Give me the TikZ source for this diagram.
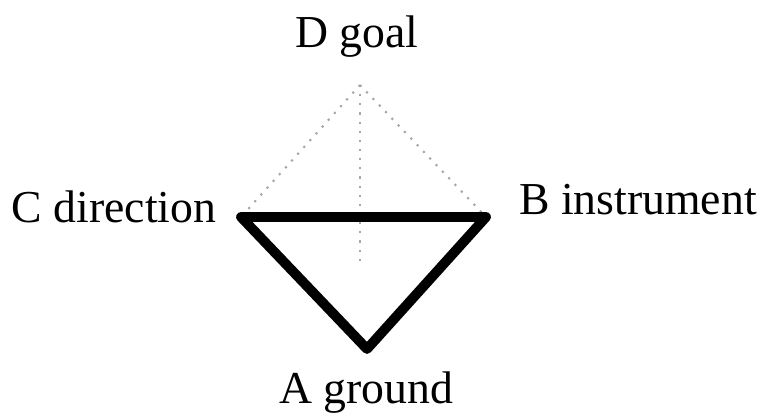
\documentclass[tikz,border=0pt]{standalone}
\usepackage{fontspec}
\setmainfont{Liberation Serif}
\usetikzlibrary{positioning}
\tikzset{
  vertex/.style={inner sep=0pt, minimum size=0pt},
  vlabel/.style={anchor=base, font=\fontsize{13}{15}\selectfont, text=black},
  faceedge/.style={draw=black, line width=2.8pt, line join=round, line cap=round},
  hiddenedge/.style={draw=black!35, line width=0.6pt, dotted},
}

\begin{document}
\begin{tikzpicture}[x=0.01cm, y=-0.01cm]
\useasboundingbox (0,0) rectangle (765,419);

% Corners of the tetrahedron.
\coordinate (D) at (360, 85);
\coordinate (C) at (241, 217);
\coordinate (B) at (486, 217);
\coordinate (A) at (367, 349);
\coordinate (Dfoot) at (360, 262);

% Back edges, only dotted.
\draw[hiddenedge] (D) -- (C);
\draw[hiddenedge] (D) -- (B);
\draw[hiddenedge] (D) -- (Dfoot);

% Front face.
\draw[faceedge] (C) -- (B) -- (A) -- cycle;

% Corner labels.
\node[vlabel] (dlab) at (357, 48) {D goal};
\node[vlabel] (clab) at (114, 223) {C direction};
\node[vlabel] (blab) at (638, 215) {B instrument};
\node[vlabel] (alab) at (366, 403) {A ground};

\end{tikzpicture}
\end{document}
